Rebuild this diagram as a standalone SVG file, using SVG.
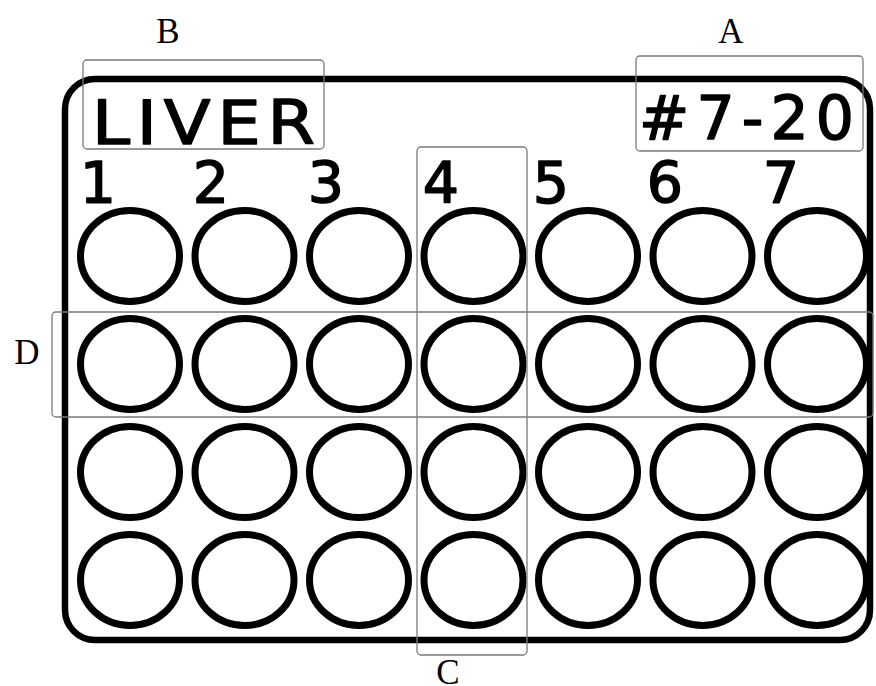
<svg xmlns="http://www.w3.org/2000/svg" width="876" height="686" viewBox="0 0 876 686">
<style>
.well{fill:none;stroke:#000;stroke-width:7}
.plate{fill:none;stroke:#000;stroke-width:6.5}
.stencil{font-family:"DejaVu Sans","Liberation Sans",sans-serif;fill:#000;stroke:#000;stroke-width:1.5;stroke-linejoin:round}
.ann{fill:none;stroke:#7a7a7a;stroke-width:1.3}
.lbl{font-family:"Liberation Serif","Times New Roman",serif;font-size:35px;fill:#000}
</style>
<rect width="876" height="686" fill="#fff"/>
<g id="plate">
<rect class="plate" x="65" y="79" width="805" height="561" rx="30" ry="30"/>
</g>
<g id="texts">
<text class="stencil" transform="translate(92,144) scale(1.12,1)" x="0" y="0" font-size="61" textLength="199" lengthAdjust="spacing">LIVER</text>
<text class="stencil" x="639" y="139" font-size="60" textLength="215" lengthAdjust="spacing">#7-20</text>
<g font-size="57" text-anchor="middle">
<text class="stencil" x="98" y="203">1</text>
<text class="stencil" x="211" y="203">2</text>
<text class="stencil" x="326" y="203">3</text>
<text class="stencil" x="441" y="203">4</text>
<text class="stencil" x="551" y="203">5</text>
<text class="stencil" x="665" y="203">6</text>
<text class="stencil" x="781" y="203">7</text>
</g>
</g>
<g id="wells">
<defs><ellipse id="w" class="well" cx="0" cy="0" rx="49.5" ry="45.5"/></defs>
<use href="#w" x="130" y="256"/><use href="#w" x="244.5" y="256"/><use href="#w" x="359" y="256"/><use href="#w" x="473.5" y="256"/><use href="#w" x="588" y="256"/><use href="#w" x="702.5" y="256"/><use href="#w" x="817" y="256"/>
<use href="#w" x="130" y="364"/><use href="#w" x="244.5" y="364"/><use href="#w" x="359" y="364"/><use href="#w" x="473.5" y="364"/><use href="#w" x="588" y="364"/><use href="#w" x="702.5" y="364"/><use href="#w" x="817" y="364"/>
<use href="#w" x="130" y="472"/><use href="#w" x="244.5" y="472"/><use href="#w" x="359" y="472"/><use href="#w" x="473.5" y="472"/><use href="#w" x="588" y="472"/><use href="#w" x="702.5" y="472"/><use href="#w" x="817" y="472"/>
<use href="#w" x="130" y="580"/><use href="#w" x="244.5" y="580"/><use href="#w" x="359" y="580"/><use href="#w" x="473.5" y="580"/><use href="#w" x="588" y="580"/><use href="#w" x="702.5" y="580"/><use href="#w" x="817" y="580"/>
</g>
<g id="annotationA">
<rect class="ann" x="636" y="56" width="227" height="95" rx="4"/>
<text class="lbl" x="731" y="43" text-anchor="middle">A</text>
</g>
<g id="annotationB">
<rect class="ann" x="83" y="60" width="241" height="89" rx="4"/>
<text class="lbl" x="168" y="43" text-anchor="middle">B</text>
</g>
<g id="annotationC">
<rect class="ann" x="417" y="147" width="110" height="508" rx="4"/>
<text class="lbl" x="448" y="684" text-anchor="middle">C</text>
</g>
<g id="annotationD">
<rect class="ann" x="52" y="312" width="821" height="105" rx="4"/>
<text class="lbl" x="27" y="364" text-anchor="middle">D</text>
</g>
</svg>
